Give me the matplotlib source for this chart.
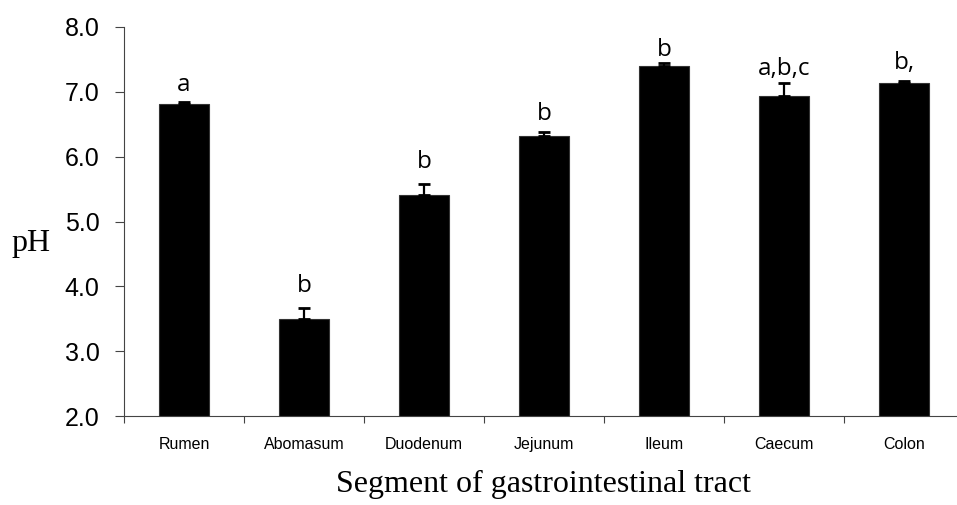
import numpy as np
import matplotlib
matplotlib.use("Agg")
import matplotlib.pyplot as plt

segments = ["Rumen", "Abomasum", "Duodenum", "Jejunum", "Ileum", "Caecum", "Colon"]
ph_mean = [6.82, 3.50, 5.41, 6.32, 7.40, 6.94, 7.13]
ph_se = [0.03, 0.16, 0.17, 0.06, 0.04, 0.20, 0.04]
letters = ["a", "b", "b", "b", "b", "a,b,c", "b,"]
letter_y = [7.01, 3.91, 5.82, 6.56, 7.55, 7.26, 7.35]
yticks = [2.0, 3.0, 4.0, 5.0, 6.0, 7.0, 8.0]

fig = plt.figure(figsize=(9.57, 5.05), dpi=100)
ax = fig.add_axes([124 / 957, 89 / 505, 840 / 957, 389 / 505])

x = np.arange(len(segments))
ax.bar(x, [m - 2.0 for m in ph_mean], bottom=2.0, width=0.42, color="black",
       edgecolor="#333333", linewidth=0.8, zorder=2)
ax.errorbar(x, ph_mean, yerr=[np.zeros(len(ph_se)), ph_se], fmt="none",
            ecolor="black", elinewidth=1.6, capsize=4, capthick=2, zorder=3)

for xi, lab, ly in zip(x, letters, letter_y):
    ax.text(xi, ly, lab, ha="center", va="baseline", fontsize=17.5,
            family="Open Sans", color="black")

ax.set_xlim(-0.5, len(segments) - 0.5)
ax.set_ylim(2.0, 8.0)
ax.set_yticks(yticks)
ax.set_yticklabels(["%.1f" % t for t in yticks], family="Liberation Sans", fontsize=18)
ax.set_xticks(x)
ax.set_xticklabels(segments, family="Liberation Sans", fontsize=11.5)
ax.set_xticks(np.arange(len(segments) + 1) - 0.5, minor=True)
ax.tick_params(axis="x", which="major", length=0, pad=15)
ax.tick_params(axis="x", which="minor", length=5, width=0.8, color="#444444")
ax.tick_params(axis="y", length=6.5, width=0.8, color="#444444", pad=11)

for s in ["top", "right"]:
    ax.spines[s].set_visible(False)
for s in ["left", "bottom"]:
    ax.spines[s].set_color("#444444")
    ax.spines[s].set_linewidth(0.8)

fig.text(31 / 957, 1 - 243 / 505, "pH", family="Liberation Serif", fontsize=23,
         ha="center", va="center")
fig.text(544 / 957, 1 - 484 / 505, "Segment of gastrointestinal tract",
         family="Liberation Serif", fontsize=23, ha="center", va="center")

fig.savefig("out.png", dpi=100)
